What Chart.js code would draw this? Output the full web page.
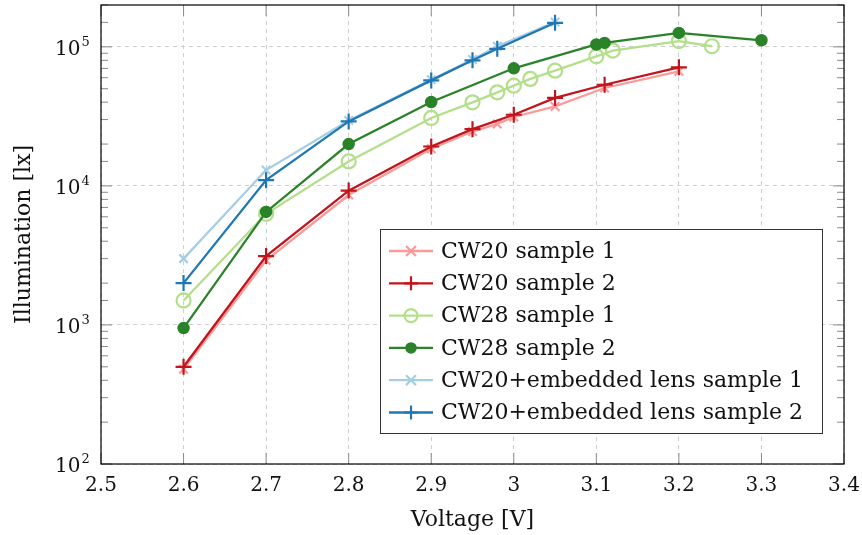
<!DOCTYPE html>
<html>
<head>
<meta charset="utf-8">
<script src="https://cdn.jsdelivr.net/npm/chart.js@4.4.1/dist/chart.umd.min.js"></script>
<style>
  html, body { margin: 0; padding: 0; background: #fff; }
  #wrap { width: 862px; height: 535px; }
</style>
</head>
<body>
<div id="wrap"><canvas id="chart" width="862" height="535"></canvas></div>
<script>
// values
const seriesNames = ["CW20 sample 1", "CW20 sample 2", "CW28 sample 1", "CW28 sample 2",
  "CW20+embedded lens sample 1", "CW20+embedded lens sample 2"];

const voltCW20s1 = [2.6, 2.7, 2.8, 2.9, 2.95, 2.98, 3.0, 3.05, 3.11, 3.2];
const luxCW20s1  = [480, 2920, 8600, 18500, 24600, 27900, 31300, 37300, 50600, 66700];

const voltCW20s2 = [2.6, 2.7, 2.8, 2.9, 2.95, 3.0, 3.05, 3.11, 3.2];
const luxCW20s2  = [500, 3130, 9250, 19200, 25600, 32500, 42900, 53400, 71300];

const voltCW28s1 = [2.6, 2.7, 2.8, 2.9, 2.95, 2.98, 3.0, 3.02, 3.05, 3.1, 3.12, 3.2, 3.24];
const luxCW28s1  = [1500, 6300, 15000, 30800, 39900, 47100, 52600, 58800, 67400, 85500, 94000, 110000, 101000];

const voltCW28s2 = [2.6, 2.7, 2.8, 2.9, 3.0, 3.1, 3.11, 3.2, 3.3];
const luxCW28s2  = [950, 6500, 20000, 40100, 70100, 104000, 106800, 126000, 111500];

const voltLens = [2.6, 2.7, 2.8, 2.9, 2.95, 2.98, 3.05];
const luxLensS1 = [3000, 13000, 29500, 58000, 81000, 101000, 151000];
const luxLensS2 = [2000, 11000, 29100, 57400, 80000, 96800, 149000];

const xTicks = [2.5, 2.6, 2.7, 2.8, 2.9, 3.0, 3.1, 3.2, 3.3, 3.4];
const xTickLabels = ["2.5", "2.6", "2.7", "2.8", "2.9", "3", "3.1", "3.2", "3.3", "3.4"];
const yDecades = [2, 3, 4, 5];

const FONT = "'DejaVu Serif', 'Liberation Serif', serif";

function pts(xs, ys) { return xs.map((x, i) => ({x: x, y: ys[i]})); }

const styles = [
  {color: "#fb9a99", shape: "crossRot", r: 6, fill: false},
  {color: "#c1141c", shape: "cross", r: 8, fill: false},
  {color: "#b2df8a", shape: "circle", r: 7, fill: false},
  {color: "#2a8229", shape: "circle", r: 5.5, fill: true},
  {color: "#a6cee3", shape: "crossRot", r: 6, fill: false},
  {color: "#1f78b4", shape: "cross", r: 8, fill: false}
];
const allData = [pts(voltCW20s1, luxCW20s1), pts(voltCW20s2, luxCW20s2), pts(voltCW28s1, luxCW28s1),
  pts(voltCW28s2, luxCW28s2), pts(voltLens, luxLensS1), pts(voltLens, luxLensS2)];

const datasets = allData.map((d, i) => {
  const s = styles[i];
  return {
    label: seriesNames[i], data: d, order: 6 - i,
    borderColor: s.color, borderWidth: 2.3,
    pointStyle: s.shape, pointRadius: s.r, pointHoverRadius: s.r,
    pointBorderColor: s.color, pointBorderWidth: s.fill ? 1.5 : 2.2,
    pointBackgroundColor: s.fill ? s.color : "rgba(0,0,0,0)",
    tension: 0, fill: false
  };
});

function drawMark(ctx, s, x, y) {
  ctx.save();
  ctx.strokeStyle = s.color; ctx.fillStyle = s.color;
  ctx.lineWidth = s.fill ? 1.5 : 2.2;
  ctx.beginPath();
  if (s.shape === "circle") {
    ctx.arc(x, y, s.r, 0, Math.PI * 2);
    if (s.fill) ctx.fill();
    ctx.stroke();
  } else if (s.shape === "cross") {
    ctx.moveTo(x - s.r, y); ctx.lineTo(x + s.r, y);
    ctx.moveTo(x, y - s.r); ctx.lineTo(x, y + s.r);
    ctx.stroke();
  } else {
    const d = s.r * 0.7071;
    ctx.moveTo(x - d, y - d); ctx.lineTo(x + d, y + d);
    ctx.moveTo(x - d, y + d); ctx.lineTo(x + d, y - d);
    ctx.stroke();
  }
  ctx.restore();
}

const framePlugin = {
  id: "frame",
  afterDraw(chart) {
    const ctx = chart.ctx, a = chart.chartArea;
    const xs = chart.scales.x, ys = chart.scales.y;
    ctx.save();
    // minor / major tick marks inside the frame
    ctx.strokeStyle = "#8a8a8a"; ctx.lineWidth = 1;
    ys.ticks.forEach(t => {
      const v = t.value;
      const e = Math.log10(v);
      const major = Math.abs(e - Math.round(e)) < 1e-9;
      const py = ys.getPixelForValue(v);
      if (py < a.top - 0.5 || py > a.bottom + 0.5) return;
      const len = major ? 11 : 7;
      ctx.beginPath();
      ctx.moveTo(a.left, py); ctx.lineTo(a.left + len, py);
      ctx.moveTo(a.right, py); ctx.lineTo(a.right - len, py);
      ctx.stroke();
    });
    xTicks.forEach(v => {
      const px = xs.getPixelForValue(v);
      ctx.beginPath();
      ctx.moveTo(px, a.top); ctx.lineTo(px, a.top + 11);
      ctx.moveTo(px, a.bottom); ctx.lineTo(px, a.bottom - 11);
      ctx.stroke();
    });
    // frame
    ctx.strokeStyle = "#000"; ctx.lineWidth = 1.2;
    ctx.strokeRect(a.left, a.top, a.right - a.left, a.bottom - a.top);

    ctx.fillStyle = "#111";
    // x tick labels
    ctx.font = "20px " + FONT;
    ctx.textAlign = "center"; ctx.textBaseline = "middle";
    xTicks.forEach((v, i) => {
      ctx.fillText(xTickLabels[i], xs.getPixelForValue(v), a.bottom + 22);
    });
    ctx.font = "22px " + FONT;
    ctx.fillText("Voltage [V]", (a.left + a.right) / 2, 520);
    // y title
    ctx.save();
    ctx.translate(24, (a.top + a.bottom) / 2);
    ctx.rotate(-Math.PI / 2);
    ctx.fillText("Illumination [lx]", 0, 0);
    ctx.restore();
    // y tick labels 10^n
    ctx.textBaseline = "alphabetic"; ctx.textAlign = "left";
    yDecades.forEach(n => {
      const py = ys.getPixelForValue(Math.pow(10, n));
      ctx.font = "20px " + FONT;
      ctx.fillText("10", 55, py + 8);
      const w = ctx.measureText("10").width;
      ctx.font = "13px " + FONT;
      ctx.fillText(String(n), 55 + w + 1, py - 1);
    });
    // legend box
    const bx = 380, by = 229, bw = 442, bh = 204;
    ctx.fillStyle = "#fff";
    ctx.fillRect(bx, by, bw, bh);
    ctx.strokeStyle = "#333"; ctx.lineWidth = 1;
    ctx.strokeRect(bx + 0.5, by + 0.5, bw, bh);
    seriesNames.forEach((name, i) => {
      const s = styles[i];
      const ry = 251 + i * 32.3;
      ctx.strokeStyle = s.color; ctx.lineWidth = 2.3;
      ctx.beginPath(); ctx.moveTo(389, ry); ctx.lineTo(433, ry); ctx.stroke();
      const m = Object.assign({}, s, {r: s.shape === "circle" ? (s.fill ? 5 : 6.5) : 7});
      drawMark(ctx, m, 411, ry);
      ctx.fillStyle = "#111";
      ctx.font = "22px " + FONT;
      ctx.textAlign = "left"; ctx.textBaseline = "middle";
      ctx.fillText(name, 441, ry + 1);
    });
    ctx.restore();
  }
};

new Chart(document.getElementById("chart"), {
  type: "line",
  data: {datasets: datasets},
  options: {
    responsive: false, animation: false,
    layout: {autoPadding: false, padding: {top: 5, right: 18, left: 0, bottom: 0}},
    plugins: {legend: {display: false}, tooltip: {enabled: false}},
    scales: {
      x: {
        type: "linear", min: 2.5, max: 3.4,
        afterBuildTicks: sc => { sc.ticks = xTicks.map(v => ({value: v})); },
        afterFit: sc => { sc.height = 71; },
        grid: {color: "#cfcfcf", lineWidth: 1, drawTicks: false},
        border: {display: false, dash: [4, 4]},
        ticks: {display: false}
      },
      y: {
        type: "logarithmic", min: 100, max: 200000,
        afterFit: sc => { sc.width = 101; },
        grid: {
          drawTicks: false, lineWidth: 1,
          color: c => {
            const v = c.tick && c.tick.value;
            if (!v) return "rgba(0,0,0,0)";
            const e = Math.log10(v);
            return Math.abs(e - Math.round(e)) < 1e-9 ? "#cfcfcf" : "rgba(0,0,0,0)";
          }
        },
        border: {display: false, dash: [4, 4]},
        ticks: {display: false}
      }
    }
  },
  plugins: [framePlugin]
});
</script>
</body>
</html>
